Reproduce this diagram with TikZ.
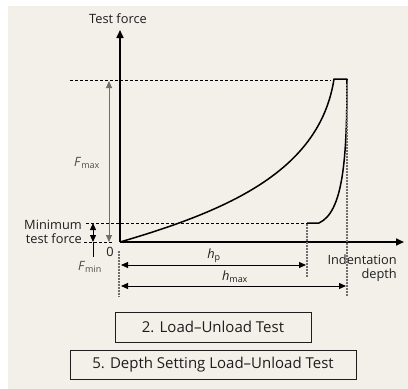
\documentclass[tikz,border=0pt]{standalone}
\usepackage{fontspec}
\setmainfont{Open Sans}
\usetikzlibrary{arrows.meta,calc}
\definecolor{paper}{RGB}{243,240,233}
\definecolor{ink}{RGB}{30,30,30}
\definecolor{greyline}{RGB}{110,110,110}
\tikzset{
  axis/.style={line width=1.6pt,-{Triangle[length=8pt,width=7pt]}},
  guide/.style={line width=0.7pt,dash pattern=on 3pt off 2pt},
  mark line/.style={line width=1.2pt,greyline,dash pattern=on 1.5pt off 1.5pt},
  dim/.style={line width=1pt,{Triangle[length=7pt,width=6pt]}-{Triangle[length=7pt,width=6pt]}},
  curve/.style={line width=1.5pt,line join=round},
  label/.style={text=ink,font=\fontsize{12.8}{14.5}\selectfont,inner sep=1pt},
  testbox/.style={draw=ink,line width=0.6pt,text=ink,font=\fontsize{15}{16}\selectfont,minimum height=30pt}
}
\begin{document}
\begin{tikzpicture}[x=1pt,y=-1pt]
    \useasboundingbox (0,0) rectangle (408,389);
    \fill[paper] (8,6) rectangle (408,389);
    % axes
    \coordinate (O) at (120,242);
    \coordinate (ytop) at (120,30);
    \coordinate (xend) at (404,242);
    \draw[axis] (O)--(ytop);
    \draw[axis] (O)--(xend);
    \node[label] (yname) at (118,19) {Test force};
    \node[label,align=right,anchor=east] (xname) at (398,268) {Indentation\\depth};
    \node[label] (zero) at (110,252) {0};
    % guide lines
    \coordinate (fmaxL) at (70,80);
    \coordinate (fmaxR) at (331,80);
    \coordinate (fminL) at (86,223);
    \coordinate (fminR) at (307,223);
    \coordinate (zeroL) at (84,242);
    \coordinate (zeroR) at (112,242);
    \draw[guide] (fmaxL)--(fmaxR);
    \draw[guide] (fminL)--(fminR);
    \draw[guide] (zeroL)--(zeroR);
    % load-unload curve
    \coordinate (top1) at (334,79);
    \coordinate (top2) at (347,79);
    \coordinate (hold1) at (319,223);
    \coordinate (hold2) at (307,223);
    \draw[curve] (O) .. controls (230,210) and (320,170) .. (top1)
      -- (top2) .. controls (347,160) and (343,212) .. (hold1)
      -- (hold2);
    % dotted marks
    \coordinate (m0a) at (119,251);
    \coordinate (m0b) at (119,297);
    \coordinate (mpa) at (307,224);
    \coordinate (mpb) at (307,278);
    \coordinate (mma) at (347,84);
    \coordinate (mmb) at (347,297);
    \draw[mark line] (m0a)--(m0b);
    \draw[mark line] (mpa)--(mpb);
    \draw[mark line] (mma)--(mmb);
    % force arrows
    \coordinate (fa1) at (109,81);
    \coordinate (fa2) at (109,242);
    \draw[dim,greyline] (fa1)--(fa2);
    \node[label,text=ink!80] (Fmax) at (87,163) {\textit{F}\textsubscript{max}};
    \coordinate (fb1) at (93,223);
    \coordinate (fb2) at (93,242);
    \coordinate (fb3) at (93,257);
    \draw[dim,line width=1pt] (fb1)--(fb2);
    \draw[line width=1pt] (fb2)--(fb3);
    \node[label,text=ink!80] (Fmin) at (90,267) {\textit{F}\textsubscript{min}};
    \node[label,align=right,anchor=east] (minname) at (83,232) {Minimum\\test force};
    % depth arrows
    \coordinate (hp1) at (121,265);
    \coordinate (hp2) at (306,265);
    \coordinate (hm1) at (121,286);
    \coordinate (hm2) at (346,286);
    \draw[dim] (hp1)--(hp2);
    \draw[dim] (hm1)--(hm2);
    \node[label] (hp) at (214,256) {\textit{h}\textsubscript{p}};
    \node[label] (hmax) at (235,277) {\textit{h}\textsubscript{max}};
    % test names
    \node[testbox,minimum width=196pt] (test2) at (213,327) {2. Load–Unload Test};
    \node[testbox,minimum width=286pt,minimum height=29pt] (test5) at (213,364.5) {5. Depth Setting Load–Unload Test};
  \end{tikzpicture}
\end{document}
